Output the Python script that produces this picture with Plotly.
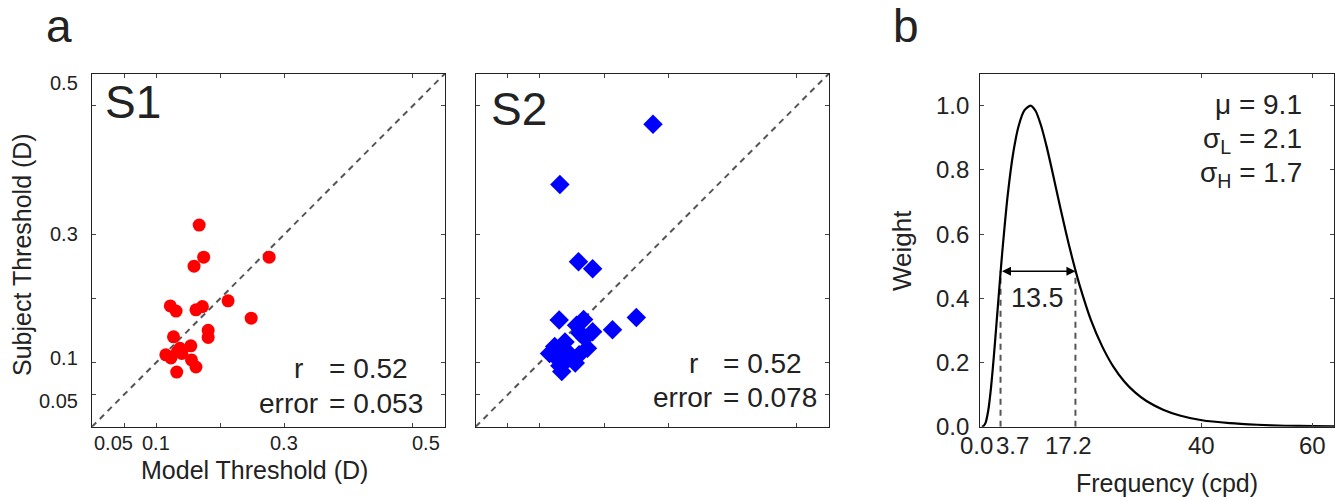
import plotly.graph_objects as go

# ---------------- data ----------------
s1_model = [0.167, 0.174, 0.159, 0.276, 0.212, 0.122, 0.131, 0.162, 0.172, 0.248, 0.181,
            0.181, 0.127, 0.154, 0.137, 0.133, 0.115, 0.123, 0.140, 0.155, 0.162, 0.132]
s1_subject = [0.314, 0.264, 0.250, 0.264, 0.196, 0.188, 0.180, 0.182, 0.187, 0.169, 0.150,
              0.139, 0.140, 0.126, 0.122, 0.117, 0.112, 0.107, 0.114, 0.104, 0.093, 0.085]

s2_model = [0.276, 0.131, 0.160, 0.182, 0.130, 0.250, 0.213, 0.168, 0.157, 0.182, 0.162, 0.170,
            0.139, 0.174, 0.123, 0.115, 0.139, 0.126, 0.161, 0.155, 0.142, 0.134, 0.131, 0.147]
s2_subject = [0.471, 0.377, 0.257, 0.246, 0.166, 0.170, 0.151, 0.167, 0.158, 0.148, 0.146, 0.138,
              0.132, 0.122, 0.125, 0.114, 0.120, 0.107, 0.112, 0.099, 0.104, 0.086, 0.095, 0.112]

diag = [0.0, 0.55]

scatter_ticks = [0.05, 0.1, 0.2, 0.3, 0.5]
scatter_ticklabels = ["0.05", "0.1", "0.3", "0.5"]
scatter_labelled = [0.05, 0.1, 0.3, 0.5]

freq = [0.3, 0.5, 1.0, 1.5, 2.0, 2.5, 3.0, 3.7, 4.0, 5.0, 6.0, 7.0, 8.0, 9.1, 10.0, 11.0, 12.0,
        13.0, 14.0, 15.0, 16.0, 17.2, 18.0, 20.0, 22.0, 24.0, 26.0, 28.0, 30.0, 33.0, 36.0,
        40.0, 45.0, 50.0, 55.0, 60.0, 64.0]
weight = [0.0, 0.0005, 0.012, 0.052, 0.124, 0.220, 0.327, 0.479, 0.541, 0.722, 0.854, 0.939,
          0.985, 1.0, 0.984, 0.938, 0.873, 0.798, 0.719, 0.642, 0.568, 0.487, 0.438, 0.332,
          0.251, 0.188, 0.141, 0.106, 0.080, 0.053, 0.035, 0.020, 0.011, 0.006, 0.003, 0.002, 0.001]

fwhm_low = 3.7
fwhm_high = 17.2
fwhm_width = 13.5
half_level = 0.484

b_xticks = [0.0, 3.7, 17.2, 40, 60]
b_xticklabels = ["0.0", "3.7", "17.2", "40", "60"]
b_yticks = [0.0, 0.2, 0.4, 0.6, 0.8, 1.0]
b_yticklabels = ["0.0", "0.2", "0.4", "0.6", "0.8", "1.0"]

# ---------------- layout helpers ----------------
W, H = 1338, 500
def px(x):
    return x / W
def py(y):
    return 1 - y / H

FONT = "Liberation Sans, Arial, Helvetica, sans-serif"
TXT = "#222222"

fig = go.Figure()

# Panel a: S1
fig.add_trace(go.Scatter(x=diag, y=diag, mode="lines", xaxis="x", yaxis="y",
                         line=dict(color="#555555", width=2, dash="6px,5px"), showlegend=False))
fig.add_trace(go.Scatter(x=s1_model, y=s1_subject, mode="markers", xaxis="x", yaxis="y",
                         marker=dict(symbol="circle", size=13, color="#ff0000", line=dict(width=0)),
                         showlegend=False))
# Panel a: S2
fig.add_trace(go.Scatter(x=diag, y=diag, mode="lines", xaxis="x2", yaxis="y2",
                         line=dict(color="#555555", width=2, dash="6px,5px"), showlegend=False))
fig.add_trace(go.Scatter(x=s2_model, y=s2_subject, mode="markers", xaxis="x2", yaxis="y2",
                         marker=dict(symbol="diamond", size=15, color="#0000ff", line=dict(width=0)),
                         showlegend=False))
# Panel b
for f in (fwhm_low, fwhm_high):
    fig.add_trace(go.Scatter(x=[f, f], y=[0, half_level], mode="lines", xaxis="x3", yaxis="y3",
                             line=dict(color="#555555", width=2, dash="6px,5px"), showlegend=False))
fig.add_trace(go.Scatter(x=freq, y=weight, mode="lines", xaxis="x3", yaxis="y3",
                         line=dict(color="black", width=2.2, shape="spline", smoothing=0.6),
                         showlegend=False))

ydom = [py(426.7), py(73.5)]
axis_common = dict(showgrid=False, zeroline=False, showline=True, linecolor="#222222",
                   linewidth=1, mirror="ticks", ticks="inside", ticklen=4, tickcolor="#444444",
                   showticklabels=False)

fig.update_layout(
    width=W, height=H, autosize=False,
    margin=dict(l=0, r=0, t=0, b=0),
    paper_bgcolor="white", plot_bgcolor="white",
    font=dict(family=FONT, color=TXT),
    xaxis=dict(domain=[px(92), px(445)], range=[0, 0.55], tickvals=scatter_ticks, anchor="y", **axis_common),
    yaxis=dict(domain=ydom, range=[0, 0.55], tickvals=scatter_ticks, anchor="x", **axis_common),
    xaxis2=dict(domain=[px(475.7), px(829)], range=[0, 0.55], tickvals=scatter_ticks, anchor="y2", **axis_common),
    yaxis2=dict(domain=ydom, range=[0, 0.55], tickvals=scatter_ticks, anchor="x2", **axis_common),
    xaxis3=dict(domain=[px(980), px(1334)], range=[0, 63.8], tickvals=[40, 60], anchor="y3", **axis_common),
    yaxis3=dict(domain=ydom, range=[0, 1.1], tickvals=b_yticks, anchor="x3", **axis_common),
)

ann = []
def text(x, y, s, size, xanchor="center", yanchor="middle", xref="paper", yref="paper",
         xshift=0, yshift=0, textangle=0):
    ann.append(dict(x=x, y=y, text=s, xref=xref, yref=yref, xanchor=xanchor, yanchor=yanchor,
                    showarrow=False, xshift=xshift, yshift=yshift, textangle=textangle,
                    font=dict(family=FONT, size=size, color=TXT)))

# panel letters
text(px(59), py(26), "a", 46)
text(px(906), py(26), "b", 46)

# S1 tick labels
s1_ylabel_shift = {0.05: -6, 0.1: 4, 0.3: 0, 0.5: 23}
for v, lab in zip(scatter_labelled, scatter_ticklabels):
    text(px(80), v, lab, 20, xanchor="right", yref="y", yshift=s1_ylabel_shift[v])
s1_xlabel_shift = {0.05: -11, 0.1: 0, 0.3: -1, 0.5: 13}
for v, lab in zip(scatter_labelled, scatter_ticklabels):
    text(v, py(443), lab, 20, xref="x", xshift=s1_xlabel_shift[v])

text(px(254), py(470), "Model Threshold (D)", 25)
text(px(22), py(255), "Subject Threshold (D)", 25, textangle=-90)

text(px(103), py(102), "S1", 46, xanchor="left")
text(px(489), py(109), "S2", 46, xanchor="left")

# stats S1
text(px(292), py(368), "r", 28, xanchor="left")
text(px(327), py(368), "= 0.52", 28, xanchor="left")
text(px(320), py(403), "error", 28, xanchor="right")
text(px(327), py(403), "= 0.053", 28, xanchor="left")
# stats S2
text(px(687), py(363), "r", 28, xanchor="left")
text(px(721), py(363), "= 0.52", 28, xanchor="left")
text(px(714), py(397), "error", 28, xanchor="right")
text(px(721), py(397), "= 0.078", 28, xanchor="left")

# panel b tick labels
b_xlabel_shift = {"0.0": -4, "3.7": 12, "17.2": -7, "40": 0, "60": 0}
for v, lab in zip(b_xticks, b_xticklabels):
    text(v, py(445), lab, 24, xref="x3", xshift=b_xlabel_shift[lab])
for v, lab in zip(b_yticks, b_yticklabels):
    text(px(971), v, lab, 24, xanchor="right", yref="y3")

text(px(1167), py(483), "Frequency (cpd)", 25)
text(px(902), py(251), "Weight", 26, textangle=-90)

text(px(1304), py(105), "\u03bc = 9.1", 28, xanchor="right")
text(px(1304), py(140), "\u03c3<sub>L</sub> = 2.1", 28, xanchor="right")
text(px(1304), py(174), "\u03c3<sub>H</sub> = 1.7", 28, xanchor="right")

text((fwhm_low + fwhm_high) / 2, half_level, "%.1f" % fwhm_width, 27, xref="x3", yref="y3",
     yshift=-27)

# double-headed arrow
ann.append(dict(x=fwhm_high, y=half_level, ax=fwhm_low, ay=half_level, xref="x3", yref="y3",
                axref="x3", ayref="y3", showarrow=True, arrowhead=2, startarrowhead=2,
                arrowside="end+start", arrowsize=1.2, arrowwidth=1.5, arrowcolor="black", text=""))

fig.update_layout(annotations=ann)
fig.write_html("out.html")
